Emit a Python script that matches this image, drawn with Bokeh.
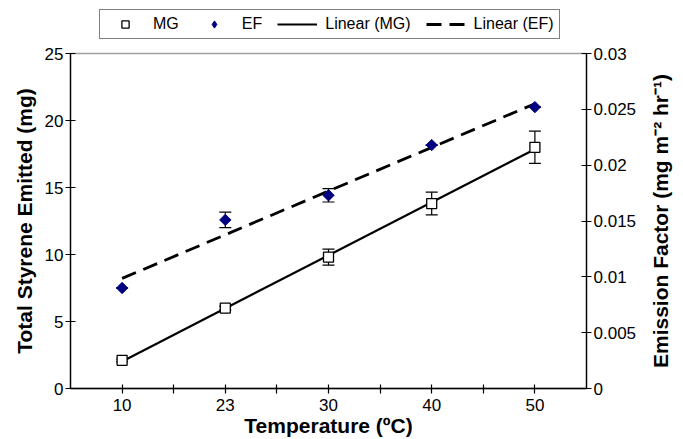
import math
import numpy as np
from bokeh.plotting import figure
from bokeh.layouts import column, row
from bokeh.models import (Range1d, LinearAxis, FixedTicker, Whisker, TeeHead,
                          ColumnDataSource, Legend, LegendItem, Label)
from bokeh.embed import file_html
from bokeh.resources import INLINE

# ---- data ----
temps = ["10", "23", "30", "40", "50"]
mg_values = [2.1, 6.0, 9.8, 13.8, 18.0]
mg_errors = [0.1, 0.15, 0.6, 0.85, 1.2]
ef_values = [0.0090, 0.0151, 0.0173, 0.0218, 0.0252]
ef_errors = [0.0, 0.0007, 0.0006, 0.0, 0.0]
left_ticks = [0, 5, 10, 15, 20, 25]
right_ticks = [0, 0.005, 0.01, 0.015, 0.02, 0.025, 0.03]
right_tick_labels = ["0", "0.005", "0.01", "0.015", "0.02", "0.025", "0.03"]
legend_labels = ["MG", "EF", "Linear (MG)", "Linear (EF)"]
right_title = "Emission Factor (mg m⁻² hr⁻¹)"

FONT = "Liberation Sans"
NAVY = "#000080"

idx = np.arange(1, len(temps) + 1, dtype=float)
mg_src = ColumnDataSource(dict(
    x=idx, y=mg_values,
    lo=[v - e for v, e in zip(mg_values, mg_errors)],
    hi=[v + e for v, e in zip(mg_values, mg_errors)]))
ef_src = ColumnDataSource(dict(
    x=idx, y=ef_values,
    lo=[v - e for v, e in zip(ef_values, ef_errors)],
    hi=[v + e for v, e in zip(ef_values, ef_errors)]))

mg_fit = np.polyfit(idx, mg_values, 1)
ef_fit = np.polyfit(idx, ef_values, 1)
tx = np.array([idx[0], idx[-1]])

def blank_fig(w, h, xr, yr):
    f = figure(width=w, height=h, output_backend="svg", toolbar_location=None,
               x_range=xr, y_range=yr,
               x_axis_location=None, y_axis_location=None,
               min_border_left=0, min_border_right=0, min_border_top=0,
               min_border_bottom=0)
    f.xgrid.visible = False
    f.ygrid.visible = False
    f.outline_line_color = None
    return f

# ---------------- main chart ----------------
p = figure(width=645, height=396, output_backend="svg", toolbar_location=None,
           x_range=Range1d(0.5, len(temps) + 0.5), y_range=Range1d(0, 25),
           min_border_left=70, min_border_right=59, min_border_top=10,
           min_border_bottom=51)
p.extra_y_ranges = {"ef": Range1d(0, 0.03)}
p.xgrid.visible = False
p.ygrid.visible = False
p.outline_line_color = "#a0a0a0"
p.outline_line_width = 1.5

def style_axis(ax):
    ax.axis_line_color = "black"
    ax.axis_line_width = 1.3
    ax.major_tick_line_color = "black"
    ax.major_tick_line_width = 1.2
    ax.major_tick_in = 5
    ax.major_tick_out = 5
    ax.minor_tick_line_color = None
    ax.major_label_text_font = FONT
    ax.major_label_text_font_size = "17px"
    ax.major_label_text_color = "black"
    ax.axis_label_text_font = FONT
    ax.axis_label_text_font_style = "bold"
    ax.axis_label_text_font_size = "21px"
    ax.axis_label_text_color = "black"

xa = p.xaxis[0]
style_axis(xa)
xt = [1 + 0.5 * i for i in range(2 * len(temps) - 1)]
xa.ticker = FixedTicker(ticks=xt)
xa.major_label_overrides = {t: (temps[int(t) - 1] if float(t).is_integer() else " ") for t in xt}
xa.major_tick_in = 4
xa.axis_label = "Temperature (ºC)"
xa.major_label_standoff = 2
xa.axis_label_standoff = -4

ya = p.yaxis[0]
style_axis(ya)
ya.ticker = FixedTicker(ticks=left_ticks)
ya.axis_label = "Total Styrene Emitted (mg)"
ya.major_label_standoff = 2
ya.axis_label_standoff = 6

ra = LinearAxis(y_range_name="ef")
style_axis(ra)
ra.ticker = FixedTicker(ticks=right_ticks)
ra.major_label_overrides = dict(zip(right_ticks, right_tick_labels))
ra.major_label_standoff = 2
p.add_layout(ra, "right")

def tee():
    return TeeHead(size=12, line_color="black", line_width=1.2)

p.add_layout(Whisker(source=mg_src, base="x", lower="lo", upper="hi",
                     line_color="black", line_width=1.2,
                     upper_head=tee(), lower_head=tee()))
p.add_layout(Whisker(source=ef_src, base="x", lower="lo", upper="hi",
                     y_range_name="ef", line_color="black", line_width=1.2,
                     upper_head=tee(), lower_head=tee()))

p.line(tx, np.polyval(mg_fit, tx), line_color="black", line_width=2.2)
p.line(tx, np.polyval(ef_fit, tx), line_color="black", line_width=2.8,
       line_dash="15 8", y_range_name="ef")

p.scatter("x", "y", source=mg_src, marker="square", size=10,
          fill_color="white", line_color="black", line_width=1.3)
p.scatter("x", "y", source=ef_src, marker="square", size=8, angle=math.pi / 4,
          fill_color=NAVY, line_color=NAVY, line_width=1, y_range_name="ef")

# ---------------- legend strip (top) ----------------
# legend-only copies of the series; the view range excludes all data, so only
# their legend swatches are shown
lf = blank_fig(683, 43, Range1d(-10, -9), Range1d(-10, -9))
lg_mg = lf.scatter(idx, mg_values, marker="square", size=10, fill_color="white",
                   line_color="black", line_width=1.3)
lg_ef = lf.scatter(idx, ef_values, marker="diamond", size=15, fill_color=NAVY,
                   line_color=NAVY, line_width=1)
lg_lmg = lf.line(tx, np.polyval(mg_fit, tx), line_color="black", line_width=2.2)
lg_lef = lf.line(tx, np.polyval(ef_fit, tx), line_color="black", line_width=2.8,
                 line_dash="15 8")
legend = Legend(items=[LegendItem(label=l, renderers=[r]) for l, r in
                       zip(legend_labels, [lg_mg, lg_ef, lg_lmg, lg_lef])],
                orientation="horizontal", location=(99, 4))
legend.label_text_font = FONT
legend.label_text_font_size = "16px"
legend.label_text_color = "black"
legend.glyph_width = 40
legend.glyph_height = 18
legend.label_height = 18
legend.label_standoff = 8
legend.spacing = 15
legend.padding = 5
legend.margin = 0
legend.border_line_color = "black"
legend.border_line_width = 1
legend.background_fill_color = "white"
legend.background_fill_alpha = 1
lf.add_layout(legend)

# ---------------- right axis title strip ----------------
tf = blank_fig(38, 396, Range1d(0, 38), Range1d(0, 25))
tf.add_layout(Label(x=15, y=12.5, x_units="screen", y_units="data",
                    text=right_title, angle=math.pi / 2,
                    text_align="center", text_baseline="middle",
                    text_font=FONT, text_font_style="bold",
                    text_font_size="21px", text_color="black"))

layout = column(lf, row(p, tf, spacing=0), spacing=0)
open("out.html", "w").write(file_html(layout, INLINE))
